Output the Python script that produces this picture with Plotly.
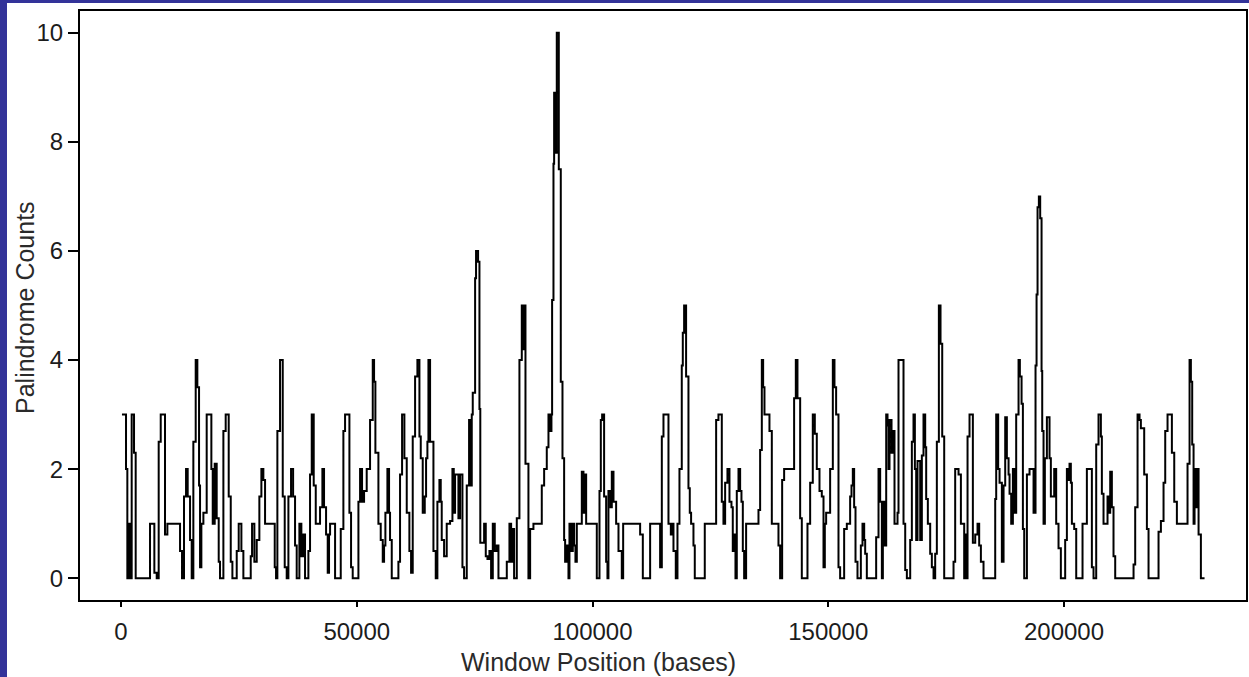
import plotly.graph_objects as go

# Window start positions (kilobases) and palindrome counts
window_kb = [
    0.2, 1.06, 1.34, 1.70, 1.98, 2.26, 2.76, 3.11, 6.15, 7.07, 7.57, 7.99, 8.42, 9.33, 9.83,
    12.52, 12.94, 13.36, 13.79, 14.14, 14.64, 14.99, 15.34, 15.84, 16.19, 16.55, 16.76, 17.04,
    17.47, 18.17, 19.16, 19.45, 19.87, 20.29, 20.72, 21.0, 21.71, 22.2, 22.84, 23.27, 23.62,
    24.54, 24.96, 25.53, 25.95, 27.51, 27.79, 28.28, 28.78, 29.34, 29.77, 30.19, 30.55, 32.6,
    32.88, 33.16, 33.73, 34.3, 34.72, 35.14, 35.5, 36.06, 36.5, 36.91, 37.26, 37.83, 38.25,
    38.68, 39.03, 39.74, 40.09, 40.45, 40.87, 41.3, 42.21, 42.71, 43.06, 43.49, 43.84, 44.12,
    44.34, 45.4, 46.6, 47.16, 47.52, 48.44, 48.79, 49.14, 50.35, 50.7, 51.12, 51.55, 52.11,
    52.82, 53.39, 53.67, 53.95, 54.59, 55.08, 55.51, 55.79, 56.07, 56.5, 56.85, 57.06, 57.42,
    58.83, 59.18, 59.61, 60.1, 60.6, 61.16, 61.52, 61.87, 62.37, 62.86, 63.29, 63.57, 63.99,
    64.42, 64.7, 64.98, 65.2, 65.55, 66.26, 66.75, 67.1, 67.53, 67.81, 68.02, 68.52, 69.08,
    69.79, 70.29, 70.57, 70.85, 71.56, 71.91, 72.41, 72.76, 73.33, 73.82, 74.11, 74.39, 74.6,
    75.1, 75.3, 75.73, 76.02, 76.2, 77.01, 77.36, 77.72, 78.14, 78.49, 78.85, 79.27, 79.7,
    80.05, 81.82, 82.38, 82.74, 83.09, 83.37, 83.94, 84.5, 85.0, 85.3, 85.6, 85.78, 86.41,
    86.77, 87.47, 89.24, 89.74, 90.3, 90.66, 91.01, 91.29, 91.43, 91.72, 91.86, 92.14, 92.42,
    92.85, 93.27, 93.63, 93.98, 94.19, 94.55, 94.9, 95.11, 95.46, 95.82, 96.1, 96.38, 96.67,
    97.73, 98.08, 98.36, 98.65, 100.91, 101.48, 101.76, 102.04, 102.46, 102.89, 103.17,
    103.38, 103.81, 104.09, 104.45, 105.01, 105.51, 106.21, 106.5, 110.1, 110.67, 112.22,
    114.34, 114.7, 115.05, 116.11, 116.61, 116.89, 117.17, 117.66, 118.02, 118.44, 118.93,
    119.15, 119.43, 119.85, 120.35, 120.63, 120.91, 121.41, 121.69, 123.81, 126.22, 126.71,
    127.42, 127.77, 128.13, 128.62, 129.05, 129.47, 129.75, 130.04, 130.32, 130.6, 130.96,
    131.31, 131.59, 131.88, 132.16, 132.58, 135.2, 135.55, 135.91, 136.19, 136.47, 137.53,
    138.03, 139.44, 139.79, 140.22, 140.64, 142.76, 143.12, 143.47, 144.04, 144.39, 145.59,
    146.16, 146.72, 147.15, 147.57, 148.14, 148.63, 148.99, 149.27, 149.55, 150.4, 150.97,
    151.32, 151.67, 152.17, 152.52, 153.37, 153.94, 154.64, 154.93, 155.21, 155.49, 155.78,
    156.2, 156.91, 157.26, 157.62, 157.83, 158.18, 160.16, 160.66, 161.01, 161.37, 161.58,
    161.93, 162.29, 162.57, 162.78, 162.99, 163.42, 163.84, 164.05, 164.69, 164.9, 165.96,
    166.32, 166.67, 167.38, 167.73, 168.08, 168.37, 168.65, 168.93, 169.5, 169.85, 170.2,
    170.56, 170.77, 171.12, 171.62, 171.97, 172.33, 172.68, 173.03, 173.46, 173.81, 174.17,
    174.59, 176.57, 176.92, 177.63, 178.13, 178.83, 179.11, 179.33, 179.54, 179.96, 180.67,
    181.17, 181.66, 182.01, 182.37, 182.93, 185.41, 185.62, 186.04, 186.33, 186.82, 187.18,
    187.53, 187.88, 188.24, 188.45, 188.8, 189.16, 189.51, 189.86, 190.36, 190.64, 191.0,
    191.28, 191.56, 192.13, 192.69, 193.54, 193.96, 194.18, 194.39, 194.67, 194.95, 195.24,
    195.38, 195.66, 195.94, 196.37, 196.93, 197.21, 197.92, 198.34, 198.84, 199.33, 200.25,
    200.61, 200.96, 201.17, 201.45, 201.67, 202.16, 202.59, 203.93, 204.85, 205.91, 206.26,
    206.83, 207.32, 207.82, 208.03, 208.38, 209.23, 209.52, 209.8, 210.15, 210.5, 210.86,
    214.75, 215.1, 215.6, 216.02, 216.3, 217.01, 217.58, 217.93, 220.05, 220.55, 221.11,
    221.47, 221.96, 222.88, 223.38, 223.94, 226.2, 226.63, 226.91, 227.19, 227.48, 227.69,
    227.97, 228.18, 228.54, 229.03, 229.81,
]

palindrome_counts = [
    3, 2, 0, 1, 0, 3, 2.3, 0, 1, 0.1, 0, 2.5, 3, 0.8, 1,
    0.5, 0, 1.5, 2, 1.5, 0.7, 0, 2.5, 4, 3.5, 1.7, 0.2, 1,
    1.2, 3, 2, 1, 2.1, 1.1, 0.3, 0, 2.7, 3, 1.5, 0.3, 0,
    0.5, 1, 0.5, 0, 0.4, 1, 0.3, 0.7, 1.5, 2, 1.8, 1, 0.2,
    0, 2.7, 4, 1.5, 0.2, 0, 1.5, 2, 1.5, 0.6, 0, 1, 0.4,
    0.8, 0, 0.5, 1.9, 3, 1.7, 1, 1.3, 2, 1.3, 0.8, 0.1, 0.8,
    1, 0, 0.9, 2.7, 3, 1.2, 0.2, 0, 1.4, 2, 1.4, 1.6, 2,
    2.9, 4, 3.6, 2.3, 1, 0.7, 0.3, 0.6, 1.2, 2, 1.2, 0.7, 0,
    0.3, 1.9, 3, 2.2, 1.2, 0.5, 0.1, 2.6, 3.7, 4, 2.6, 2.2, 1.2,
    1.5, 2.2, 2.5, 4, 2.5, 0.5, 0, 1.4, 1.8, 1.4, 0.7, 0.4, 1,
    1.05, 2, 1.2, 1.9, 1.1, 1.9, 0.2, 0, 1.7, 2.9, 1.7, 3, 3.4,
    5.5, 6, 5.8, 3.1, 0.65, 1, 0.4, 0.35, 0.5, 0, 1, 0.5, 0.6,
    0, 0.3, 1, 0.3, 0.9, 0, 1.1, 4, 5, 4.2, 5, 2.1, 0,
    0.9, 1, 1.7, 2, 2.4, 3, 2.7, 3, 5.1, 7.6, 8.9, 7.8, 10,
    7.5, 3.6, 2.2, 0.7, 0.3, 0.6, 0, 1, 0.5, 1, 0.6, 0.3, 1,
    1.95, 1.2, 1.9, 1, 0, 1.6, 2.9, 3, 1.5, 0.3, 0,
    1.6, 1.3, 1.95, 1.4, 1, 0.5, 0, 1, 0.8, 0, 1,
    0.2, 2.6, 3, 1, 0.8, 1, 0.5, 0, 1, 2, 3.9,
    4.5, 5, 3.7, 1.65, 1.2, 1, 0.6, 0, 1, 2.9, 3,
    1.4, 1, 1.75, 2, 1.4, 1.3, 0.5, 0.8, 0, 1.6, 2,
    1.6, 1.4, 0.5, 0, 1, 1.25, 2.35, 4, 3.5, 3, 2.7,
    1, 0.6, 0, 1.8, 2, 3.3, 4, 3.3, 1.1, 0, 1,
    1.75, 3, 2.65, 2, 1.6, 1.5, 0.2, 1, 1.2, 2, 4,
    3.5, 3, 0.2, 0, 0.9, 1, 1.5, 1.7, 2, 1.3, 0.3,
    0, 0.6, 1, 0.7, 0.45, 0, 0.75, 2, 1.4, 0, 1.4,
    0.6, 3, 2.8, 2, 2.9, 2.3, 2.7, 1, 1.2, 4, 1,
    0.15, 0, 0.7, 2.5, 3, 2, 0.7, 2.15, 0.7, 2.25, 3,
    2.4, 1.45, 1, 0.45, 0.2, 0, 0.45, 2.5, 5, 4.3, 2.6,
    0, 0.3, 2, 1.9, 1, 0, 0.8, 0, 2.6, 3, 0.65,
    0.8, 1, 0.6, 0.3, 0, 1.45, 3, 2, 1.75, 0.3, 1.7,
    2.95, 2.2, 1.9, 1.55, 1, 2, 1.2, 3, 4, 3.7, 3.2,
    0.9, 0, 1.9, 2, 1.2, 3.9, 5.2, 6.8, 7, 6.6, 3.8,
    2.7, 1, 2.2, 2.95, 2.2, 1.5, 2, 1, 0.55, 0, 0.7,
    2, 1.8, 2.1, 1.75, 1, 0.9, 0, 1, 2, 0.2, 0,
    2.45, 3, 2.6, 1.55, 1, 1.5, 1.2, 1.95, 1.3, 0.4, 0,
    0.25, 1.3, 3, 2.9, 2.75, 1.9, 0.9, 0, 0.85, 1.05, 1.75,
    2.7, 3, 2.3, 1.4, 1, 2.1, 4, 3.6, 2.45, 1, 2,
    1.3, 2, 0.8, 0, 0,
]

x_tick_values = [0, 50000, 100000, 150000, 200000]
y_tick_values = [0, 2, 4, 6, 8, 10]
x_title = "Window Position (bases)"
y_title = "Palindrome Counts"

window_positions = [kb * 1000 for kb in window_kb]

fig = go.Figure(
    go.Scatter(
        x=window_positions,
        y=palindrome_counts,
        mode="lines",
        line=dict(color="black", width=2, shape="hv"),
        hoverinfo="skip",
    )
)

W, H = 1249, 677
L, R, T, B = 80, 3, 11, 77
pw, ph = W - L - R, H - T - B

def px_x(p):
    return (p - L) / pw

def px_y(p):
    return (H - B - p) / ph

text_color = "#1c1c1c"
title_color = "#2a2a2a"
font_family = "Liberation Sans, Arial, sans-serif"

fig.update_layout(
    width=W,
    height=H,
    margin=dict(l=L, r=R, t=T, b=B, autoexpand=False),
    paper_bgcolor="white",
    plot_bgcolor="white",
    showlegend=False,
    font=dict(family=font_family, size=24, color=text_color),
    shapes=[
        dict(type="rect", xref="paper", yref="paper", x0=-0.2, x1=px_x(7),
             y0=-0.3, y1=1.2, fillcolor="#333399", line=dict(width=0), layer="above"),
        dict(type="rect", xref="paper", yref="paper", x0=-0.2, x1=1.2,
             y0=px_y(3), y1=1.2, fillcolor="#333399", line=dict(width=0), layer="above"),
    ],
    annotations=[
        dict(text=x_title, xref="paper", yref="paper", x=px_x(598), y=px_y(662),
             xanchor="center", yanchor="middle", showarrow=False,
             font=dict(family=font_family, size=25, color=title_color)),
        dict(text=y_title, xref="paper", yref="paper", x=px_x(25), y=px_y(308),
             xanchor="center", yanchor="middle", textangle=-90, showarrow=False,
             font=dict(family=font_family, size=25, color=title_color)),
    ],
)

fig.update_xaxes(
    range=[-8700, 238600],
    tickvals=x_tick_values,
    ticktext=[str(v) for v in x_tick_values],
    ticks="outside", ticklen=5, tickwidth=2, tickcolor="black",
    ticklabelstandoff=4,
    showline=True, linecolor="black", linewidth=2, mirror=True,
    showgrid=False, zeroline=False,
)
fig.update_yaxes(
    range=[-0.40, 10.40],
    tickvals=y_tick_values,
    ticktext=[str(v) for v in y_tick_values],
    ticks="outside", ticklen=10, tickwidth=2, tickcolor="black",
    showline=True, linecolor="black", linewidth=2, mirror=True,
    showgrid=False, zeroline=False,
)

fig.write_html(
    "out.html",
    config={"displayModeBar": False},
    post_script="document.body.style.margin='0';document.body.style.overflow='hidden';",
)
